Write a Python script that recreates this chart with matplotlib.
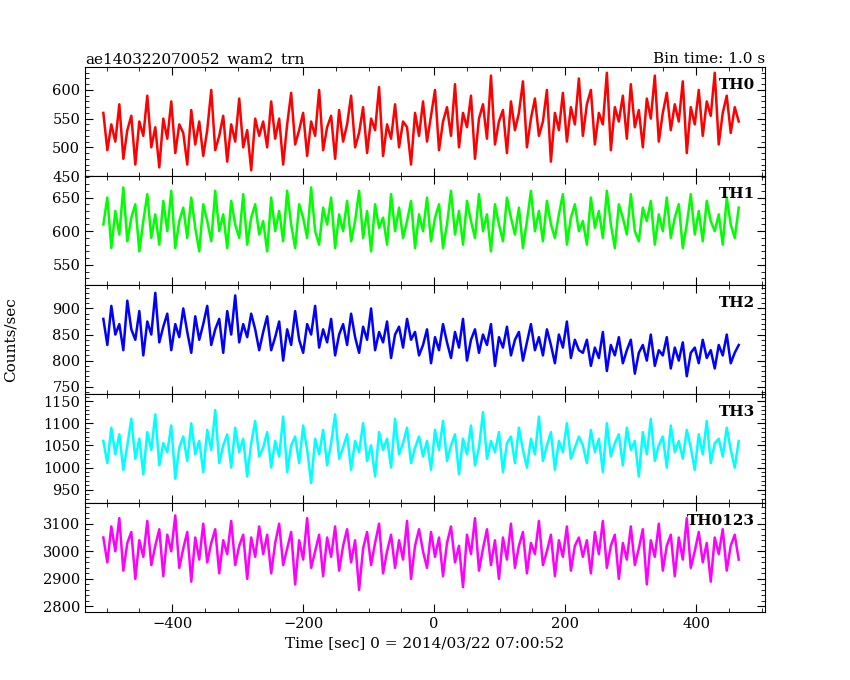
import numpy as np
import matplotlib
matplotlib.use("Agg")
import matplotlib.pyplot as plt

t_start, t_step = -505, 6.1

th0 = [560,495,540,510,575,480,530,555,470,545,520,590,500,535,465,550,515,580,490,540,525,470,565,505,545,485,530,600,495,520,555,475,540,510,585,500,530,460,550,520,
545,500,580,515,550,470,540,595,505,530,560,485,545,520,600,495,535,555,480,565,510,540,590,500,525,570,490,550,530,605,485,540,515,575,500,545,535,470,560,520,
580,510,555,600,495,545,570,520,610,500,560,535,590,480,550,575,515,625,505,545,565,490,580,530,560,615,500,550,585,520,545,600,475,560,530,595,510,570,540,620,
520,575,600,505,560,540,630,495,570,545,590,515,610,535,565,500,585,550,625,510,560,595,530,575,545,615,490,570,540,600,520,580,555,630,505,560,590,525,570,545]
th1 = [610,650,575,630,595,665,585,620,640,570,615,655,590,625,580,645,600,660,575,615,635,590,650,605,570,640,615,585,660,600,625,575,645,610,590,655,580,620,640,595,
615,570,650,600,630,585,660,610,575,640,620,590,665,600,580,635,610,650,575,625,600,645,585,615,660,590,630,570,640,605,620,580,655,600,635,590,615,645,575,625,
600,650,585,620,640,575,610,660,595,630,580,645,615,590,655,600,625,570,640,610,585,650,620,595,635,575,615,660,600,630,585,645,610,590,625,655,580,620,640,600,
615,580,650,605,630,590,660,610,575,640,620,595,655,600,585,635,615,645,580,625,600,650,590,620,640,575,610,655,595,630,585,645,615,600,625,580,650,610,590,635]
th2 = [880,830,905,850,870,820,915,860,840,895,810,875,850,930,835,865,890,820,870,845,900,855,815,885,840,870,905,830,860,880,815,895,850,925,835,870,845,890,860,820,
855,885,820,845,875,800,860,830,895,840,815,870,850,905,825,860,835,880,810,850,870,830,890,845,815,865,840,900,820,855,835,875,805,850,865,825,880,840,855,810,
830,860,795,845,820,870,835,805,855,825,880,800,840,860,815,850,830,870,790,845,825,865,810,840,855,800,835,870,820,845,810,860,830,795,850,825,875,805,840,820,
815,840,790,825,805,855,780,830,810,845,795,820,840,775,815,830,800,850,790,820,810,845,785,825,800,835,770,815,825,795,840,805,820,785,830,810,850,795,815,830]
th3 = [1060,1010,1090,1030,1075,995,1050,1110,1020,1065,985,1080,1040,1120,1005,1055,1035,1095,975,1045,1070,1015,1100,1030,1060,990,1085,1040,1130,1010,1050,1075,1000,1090,1035,1065,980,1055,1105,1025,
1045,1080,1000,1060,1025,1115,990,1050,1070,1010,1095,1040,965,1065,1030,1085,1005,1055,1120,1020,1045,1075,995,1060,1035,1100,1015,1050,980,1080,1040,1065,1000,1110,1030,1055,1090,1010,1045,1070,
1025,1060,995,1085,1040,1105,1015,1050,1075,985,1065,1030,1095,1005,1045,1125,1020,1060,1035,1080,990,1055,1070,1010,1090,1040,1000,1065,1030,1115,1015,1050,1080,995,1060,1035,1100,1020,1045,1070,
1050,1010,1085,1035,1065,990,1100,1025,1055,1075,1005,1090,1040,1060,980,1080,1030,1110,1015,1050,1070,1000,1095,1035,1060,1020,1085,1045,995,1075,1030,1105,1010,1055,1065,1025,1090,1040,1000,1060]
th0123 = [3050,2960,3090,3000,3120,2930,3030,3070,2900,3040,2980,3110,2950,3020,3080,2910,3060,3000,3130,2940,3010,3070,2890,3050,2970,3100,2960,3030,3080,2920,3040,2990,3110,2950,3020,3060,2900,3050,2980,3090,
2990,3060,2920,3030,3100,2950,3010,3070,2880,3040,2970,3120,2940,3000,3060,2910,3050,2980,3090,2930,3020,3080,2960,3040,2860,3010,3070,2950,3030,3100,2920,3000,3060,2940,3040,2970,3110,2900,3020,3080,
3000,2940,3070,2980,3050,2910,3030,3090,2960,3020,2870,3060,2990,3120,2930,3010,3080,2950,3040,2900,3050,2970,3100,2940,3020,3070,2920,3030,2990,3110,2950,3000,3060,2910,3040,2980,3090,2930,3020,3050,
2980,3040,2920,3070,2990,3110,2940,3020,3060,2900,3030,2970,3090,2950,3010,3080,2880,3040,2980,3100,2930,3020,3060,2910,3050,2970,3120,2940,3000,3070,2960,3030,2890,3050,2990,3080,2930,3020,3060,2970]

series = [th0, th1, th2, th3, th0123]
names = ["TH0", "TH1", "TH2", "TH3", "TH0123"]
colors = ["#ff0000", "#00ff00", "#0000ff", "#00ffff", "#ff00ff"]
ylims = [(450, 640), (520, 682), (736, 945), (920, 1166), (2780, 3175)]
yticks = [[450, 500, 550, 600], [550, 600, 650], [750, 800, 850, 900],
          [950, 1000, 1050, 1100, 1150], [2800, 2900, 3000, 3100]]
yminor = [10, 10, 10, 10, 20]

plt.rcParams['font.family'] = ['DejaVu Serif']
fig = plt.figure(figsize=(8.5, 6.8), dpi=100)
left, right, top, bottom = 85/850, 765/850, 1-67/680, 1-612/680
h = (top - bottom) / 5
axes = []
for i in range(5):
    ax = fig.add_axes([left, top - (i+1)*h, right-left, h])
    y = np.array(series[i])
    t = t_start + t_step*np.arange(len(y))
    ax.plot(t, y, color=colors[i], lw=1.8)
    ax.set_xlim(-533, 505)
    ax.set_ylim(*ylims[i])
    ax.set_yticks(yticks[i])
    ax.yaxis.set_minor_locator(matplotlib.ticker.MultipleLocator(yminor[i]))
    ax.xaxis.set_major_locator(matplotlib.ticker.MultipleLocator(200))
    ax.xaxis.set_minor_locator(matplotlib.ticker.MultipleLocator(50))
    ax.tick_params(which='both', direction='in', top=True, right=True, labelsize=10.5)
    ax.tick_params(which='major', length=6)
    ax.tick_params(which='minor', length=3)
    if i < 4:
        ax.set_xticklabels([])
    ax.text(0.985, 0.9, names[i], transform=ax.transAxes, ha='right', va='top',
            fontsize=11, fontweight='bold')
    axes.append(ax)

axes[0].set_title("ae140322070052_wam2_trn", loc='left', fontsize=11, pad=3)
axes[0].set_title("Bin time: 1.0 s", loc='right', fontsize=11, pad=3)
axes[-1].set_xlabel("Time [sec] 0 = 2014/03/22 07:00:52", fontsize=11)
fig.text(0.004, (top+bottom)/2, "Counts/sec", rotation=90, va='center', fontsize=11)
fig.savefig("out.png", dpi=100)
